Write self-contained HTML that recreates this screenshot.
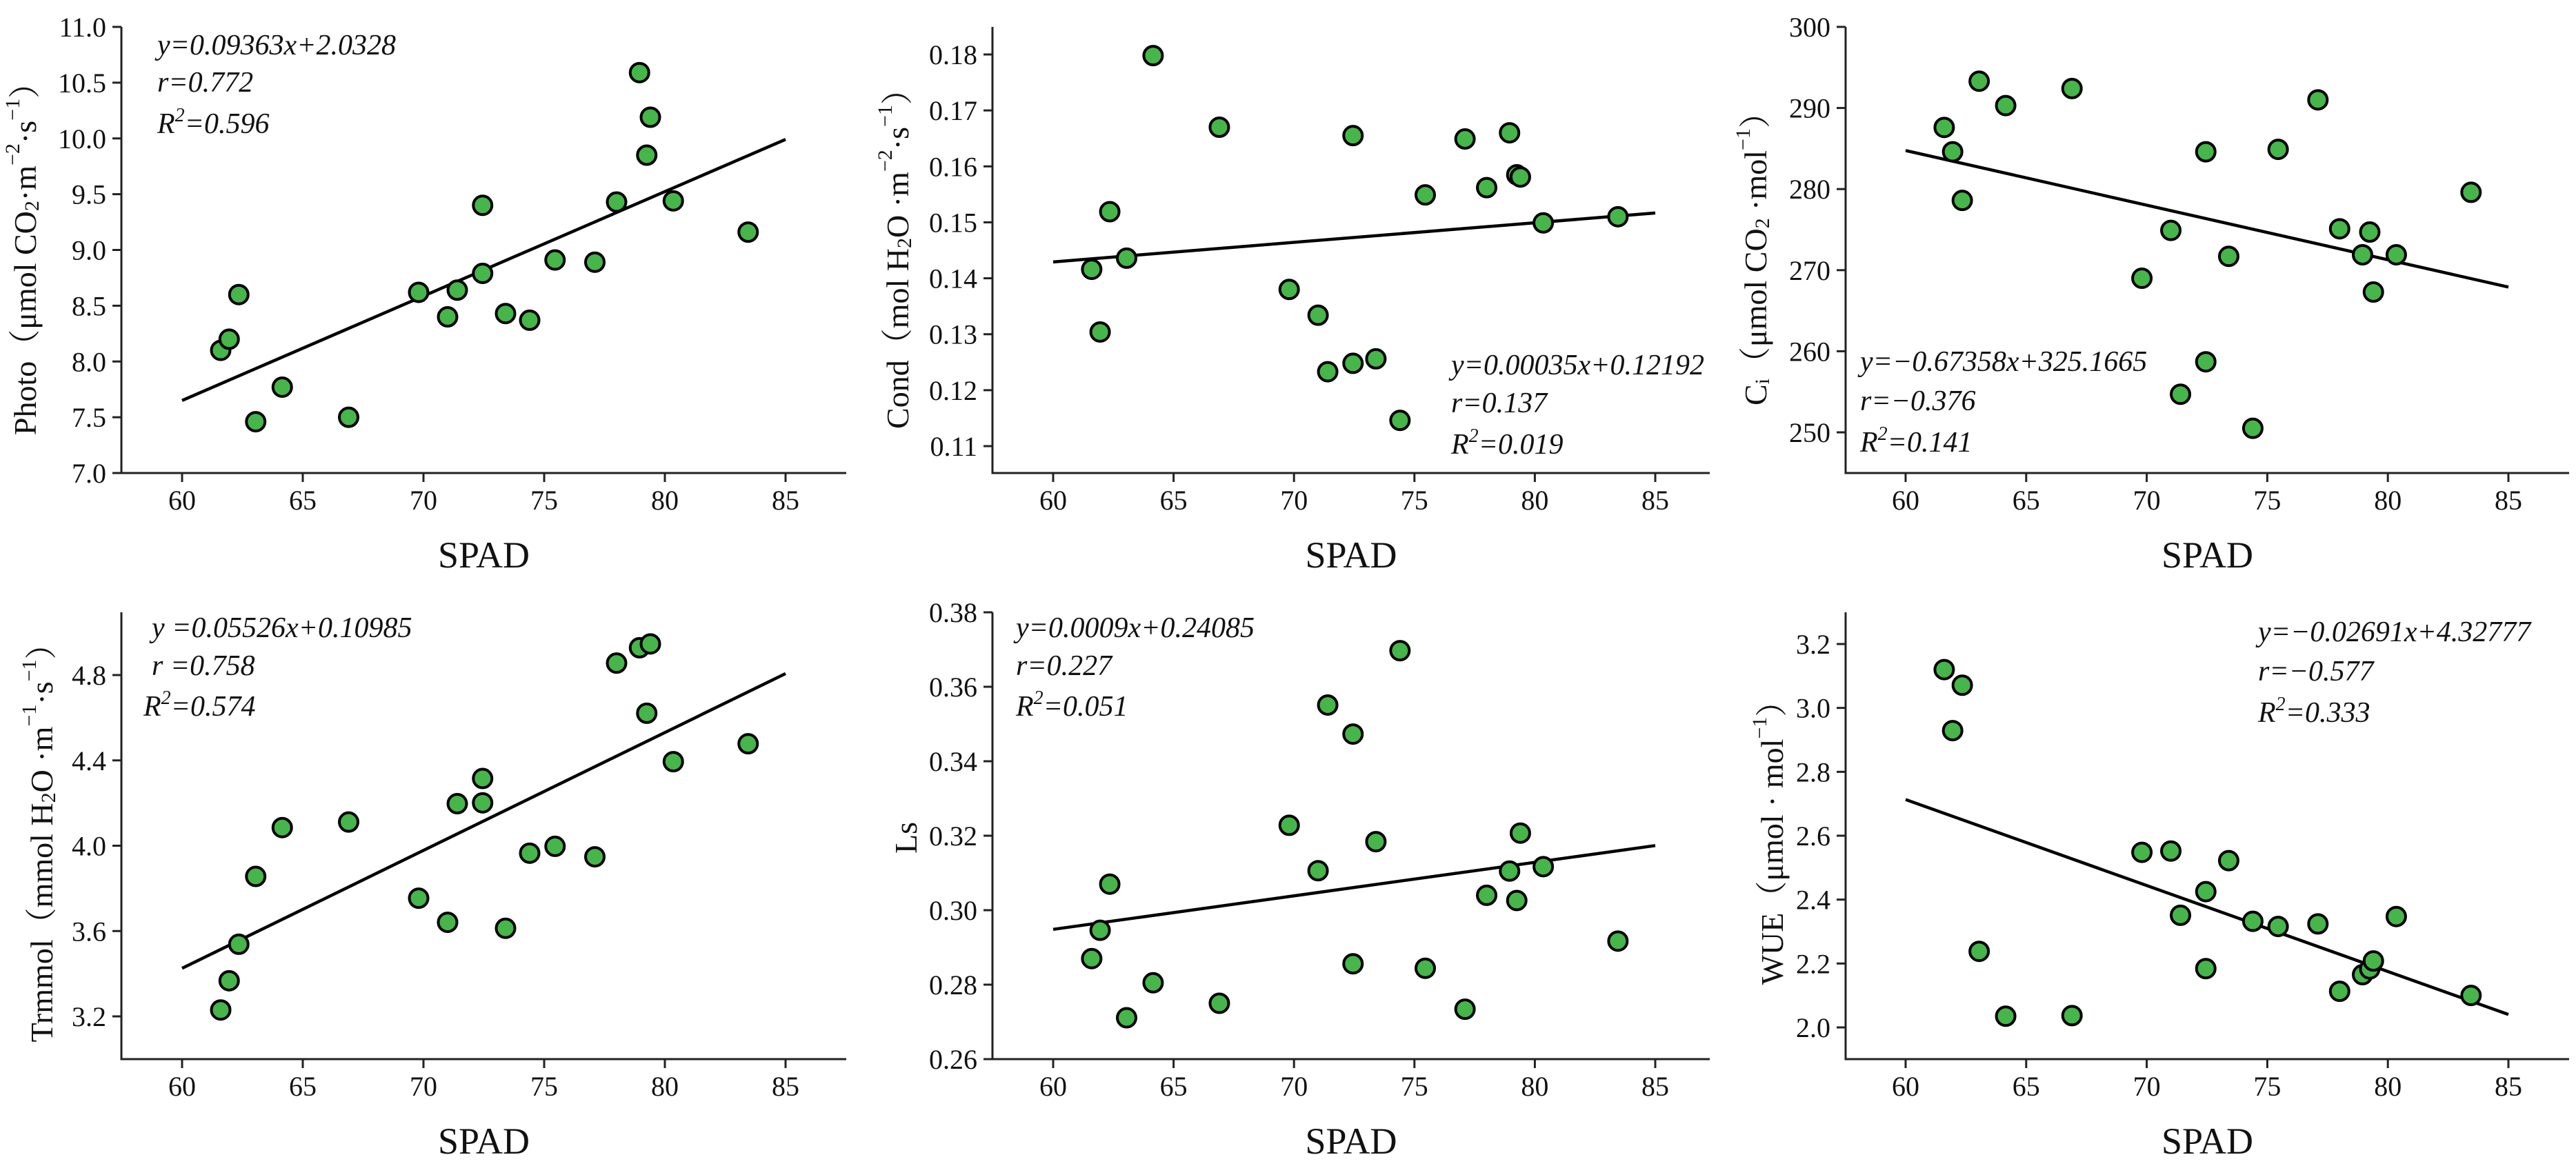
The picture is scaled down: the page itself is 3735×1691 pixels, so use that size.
<!DOCTYPE html>
<html><head><meta charset="utf-8"><style>
html,body{margin:0;padding:0;background:#fff}
svg{display:block}
text{font-family:"Liberation Serif","Noto Serif CJK SC",serif;fill:#111}
</style></head><body>
<svg id="chart" width="3735" height="1691" viewBox="0 0 3735 1691" xmlns="http://www.w3.org/2000/svg"></svg>
<script>
const spad = [61.6,61.95,62.35,63.05,64.15,66.9,69.8,71.0,71.4,72.45,72.45,73.4,74.4,75.45,77.1,78.0,78.95,79.25,79.4,80.35,83.45];
const photo = [8.10,8.20,8.60,7.46,7.77,7.50,8.62,8.40,8.64,9.40,8.79,8.43,8.37,8.91,8.89,9.43,10.59,9.85,10.19,9.44,9.16];
const cond = [0.1416,0.1304,0.1519,0.1436,0.1798,0.1670,0.1380,0.1334,0.1233,0.1655,0.1248,0.1256,0.1146,0.1549,0.1649,0.1562,0.1660,0.1585,0.1581,0.1499,0.1510];
const ci = [287.6,284.6,278.6,293.3,290.3,292.4,269.0,274.9,254.7,284.6,258.7,271.7,250.5,284.9,291.0,275.1,271.9,274.7,267.3,271.9,279.6];
const trmmol = [3.230,3.367,3.538,3.856,4.085,4.111,3.754,3.641,4.197,4.315,4.201,3.613,3.965,3.997,3.948,4.856,4.928,4.621,4.946,4.394,4.478];
const ls = [0.2870,0.2946,0.3070,0.2711,0.2805,0.2750,0.3228,0.3106,0.3551,0.3473,0.2856,0.3184,0.3697,0.2844,0.2734,0.3040,0.3105,0.3026,0.3207,0.3117,0.2917];
const wue = [3.120,2.929,3.071,2.238,2.035,2.037,2.548,2.552,2.351,2.425,2.184,2.522,2.332,2.316,2.324,2.113,2.165,2.183,2.208,2.347,2.100];
const slopes = [0.09363,0.00035,-0.67358,0.05526,0.0009,-0.02691];
const intercepts = [2.0328,0.12192,325.1665,0.10985,0.24085,4.32777];
const xTicks = [60,65,70,75,80,85];
const yTicks1 = ["7.0","7.5","8.0","8.5","9.0","9.5","10.0","10.5","11.0"];
const yTicks2 = ["0.11","0.12","0.13","0.14","0.15","0.16","0.17","0.18"];
const yTicks3 = ["250","260","270","280","290","300"];
const yTicks4 = ["3.2","3.6","4.0","4.4","4.8"];
const yTicks5 = ["0.26","0.28","0.30","0.32","0.34","0.36","0.38"];
const yTicks6 = ["2.0","2.2","2.4","2.6","2.8","3.0","3.2"];

const NS="http://www.w3.org/2000/svg";
const svg=document.getElementById('chart');
function mk(tag,attrs,parent){const e=document.createElementNS(NS,tag);for(const k in attrs)e.setAttribute(k,attrs[k]);(parent||svg).appendChild(e);return e;}

const panels=[
 {name:'photo',data:photo,ticks:yTicks1,ax:176,x60:264,x85:1139,xe:1227,top:39,bot:686,v0:7,p0:686,v1:11,p1:39,
  title:[['Photo（μmol CO',''],['2','sub'],['·m',''],['−2','sup'],['·s',''],['−1','sup'],['）','']],tx:36,ty:364,
  eq:['y=0.09363x+2.0328','r=0.772','R2=0.596'],ex:[228,228,228],ey:[79,133,193]},
 {name:'cond',data:cond,ticks:yTicks2,ax:1439,x60:1527,x85:2400,xe:2479,top:39,bot:686,v0:0.11,p0:647,v1:0.18,p1:79,
  title:[['Cond（mol H',''],['2','sub'],['O ·m',''],['−2','sup'],['·s',''],['−1','sup'],['）','']],tx:1301,ty:364,
  eq:['y=0.00035x+0.12192','r=0.137','R2=0.019'],ex:[2104,2104,2104],ey:[543,598,658]},
 {name:'ci',data:ci,ticks:yTicks3,ax:2676,x60:2763,x85:3637,xe:3725,top:39,bot:686,v0:250,p0:627,v1:300,p1:39,
  title:[['C',''],['i','sub'],['（μmol CO',''],['2','sub'],[' ·mol',''],['−1','sup'],['）','']],tx:2545,ty:364,
  eq:['y=−0.67358x+325.1665','r=−0.376','R2=0.141'],ex:[2697,2697,2697],ey:[538,595,655]},
 {name:'trmmol',data:trmmol,ticks:yTicks4,ax:176,x60:264,x85:1139,xe:1227,top:888,bot:1536,v0:3.2,p0:1474,v1:4.8,p1:979,
  title:[['Trmmol（mmol H',''],['2','sub'],['O ·m',''],['−1','sup'],['·s',''],['−1','sup'],['）','']],tx:60,ty:1211,
  eq:['y =0.05526x+0.10985','r =0.758','R2=0.574'],ex:[220,220,208],ey:[924,979,1038]},
 {name:'ls',data:ls,ticks:yTicks5,ax:1439,x60:1527,x85:2400,xe:2479,top:888,bot:1536,v0:0.26,p0:1536,v1:0.38,p1:888,
  title:[['Ls','']],tx:1313,ty:1215,
  eq:['y=0.0009x+0.24085','r=0.227','R2=0.051'],ex:[1473,1473,1473],ey:[924,979,1038]},
 {name:'wue',data:wue,ticks:yTicks6,ax:2676,x60:2763,x85:3637,xe:3725,top:888,bot:1536,v0:2.0,p0:1490,v1:3.2,p1:934,
  title:[['WUE（μmol · mol',''],['−1','sup'],['）','']],tx:2569,ty:1211,
  eq:['y=−0.02691x+4.32777','r=−0.577','R2=0.333'],ex:[3274,3274,3274],ey:[930,987,1047]}
];

panels.forEach((p,i)=>{
  const g=mk('g',{});
  
  
  const X=v=>p.x60+(v-60)*(p.x85-p.x60)/25;
  const Y=v=>p.p0+(v-p.v0)*(p.p1-p.p0)/(p.v1-p.v0);
  // axes
  const ya=mk('line',{x1:p.ax,y1:p.top,x2:p.ax,y2:p.bot+1.5,stroke:'#222','stroke-width':3},g);
  
  
  const xa=mk('line',{x1:p.ax-1.5,y1:p.bot,x2:p.xe,y2:p.bot,stroke:'#222','stroke-width':3},g);
  
  
  xTicks.forEach(t=>{
    const x=X(t);
    mk('line',{x1:x,y1:p.bot,x2:x,y2:p.bot+13,stroke:'#222','stroke-width':3},g);
    const tl=mk('text',{x:x,y:p.bot+53,'font-size':40,'text-anchor':'middle'},g);
    tl.textContent=t;
    
    
  });
  p.ticks.forEach(t=>{
    const y=Y(parseFloat(t));
    mk('line',{x1:p.ax-13,y1:y,x2:p.ax,y2:y,stroke:'#222','stroke-width':3},g);
    const tl=mk('text',{x:p.ax-22,y:y+14,'font-size':40,'text-anchor':'end'},g);
    tl.textContent=t;
    
    
  });
  // x title
  const xt=mk('text',{x:(p.ax+p.xe)/2,y:p.bot+137,'font-size':54,'text-anchor':'middle'},g);
  xt.textContent='SPAD';
  
  
  // y title
  const yt=mk('text',{x:0,y:0,'font-size':46,'text-anchor':'middle','dominant-baseline':'central',transform:`translate(${p.tx},${p.ty}) rotate(-90)`},g);
  
  
  p.title.forEach(([s,k])=>{
    const ts=mk('tspan',{},yt);
    if(k==='sub'){ts.setAttribute('font-size',30);ts.setAttribute('dy',10);}
    else if(k==='sup'){ts.setAttribute('font-size',30);ts.setAttribute('dy',-18);}
    ts.textContent=s;
    if(k){const r=mk('tspan',{'font-size':30,dy:(k==='sub'?-10:18)},yt);r.textContent='\u200b';}
  });
  // regression line
  const rl=mk('line',{x1:X(60),y1:Y(slopes[i]*60+intercepts[i]),x2:X(85),y2:Y(slopes[i]*85+intercepts[i]),stroke:'#000','stroke-width':4.5},g);
  
  
  // points
  p.data.forEach((v,j)=>{
    const c=mk('circle',{cx:X(spad[j]),cy:Y(v),r:13.5,fill:'#46b54a',stroke:'#000','stroke-width':4},g);
    
    
  });
  // equation
  p.eq.forEach((s,k)=>{
    const t=mk('text',{x:p.ex[k],y:p.ey[k],'font-size':42,'font-style':'italic'},g);
    
    
    if(s.startsWith('R2')){
      const a=mk('tspan',{},t);a.textContent='R';
      const b=mk('tspan',{'font-size':28,dy:-17},t);b.textContent='2';
      const c=mk('tspan',{dy:17},t);c.textContent=s.slice(2);
    } else t.textContent=s;
  });
});
</script>
</body></html>
